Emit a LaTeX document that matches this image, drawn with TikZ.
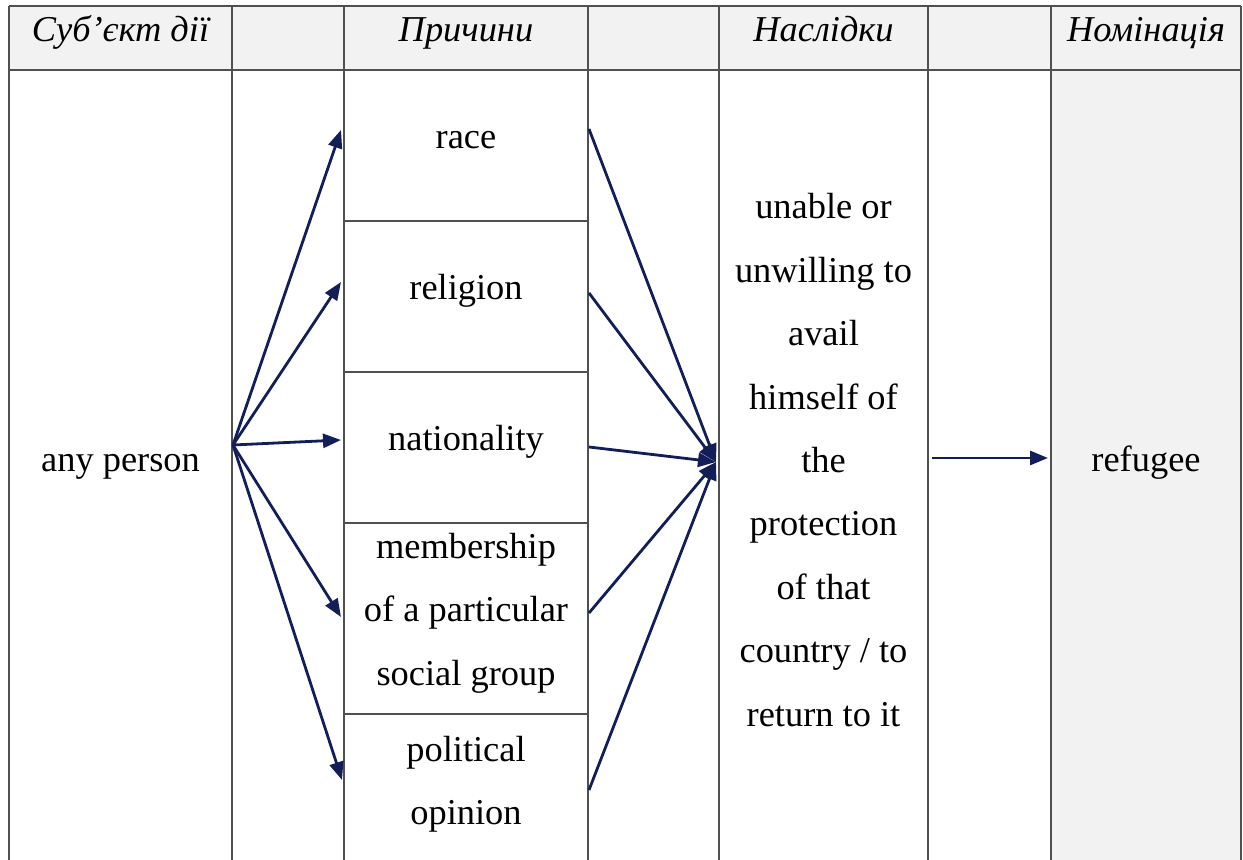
\documentclass[tikz,border=0pt]{standalone}
\usepackage{fontspec}
\setmainfont{Liberation Serif}
\usetikzlibrary{arrows.meta}
\definecolor{navy}{RGB}{18,30,88}
\definecolor{cellgray}{RGB}{242,242,242}
\definecolor{rulegray}{RGB}{80,80,80}

\begin{document}
\begin{tikzpicture}[x=0.5pt,y=-0.5pt,
  rulestyle/.style={draw=rulegray,line width=0.9pt},
  txt/.style={font=\fontsize{18.2pt}{31.7pt}\selectfont, inner sep=0pt, align=center},
  head/.style={font=\fontsize{18.2pt}{31.7pt}\selectfont\itshape, inner sep=0pt, anchor=base},
  link/.style={draw=navy, line width=1.4pt, -{Triangle[length=9pt,width=7pt]}},
]
\useasboundingbox (0,0) rectangle (1243,860);

% shaded header row and the last column
\fill[cellgray] (9,6) rectangle (1241,70);
\fill[cellgray] (1051,70) rectangle (1241,860);

% table rules
\draw[rulestyle] (9,6) -- (1241,6);
\draw[rulestyle] (9,70) -- (1241,70);
\foreach \cx in {9,232,344,588,719,928,1051,1241}
  \draw[rulestyle] (\cx,6) -- (\cx,860);
\foreach \cy in {221,372,523,714}
  \draw[rulestyle] (344,\cy) -- (588,\cy);

% header
\node[head] (hSubj) at (120.5,42) {Суб’єкт дії};
\node[head] (hCause) at (466,42) {Причини};
\node[head] (hEffect) at (823.5,42) {Наслідки};
\node[head] (hName) at (1146,42) {Номінація};

% body texts
\node[txt,anchor=base] (person) at (120.5,472) {any person};
\node[txt,anchor=base] (race) at (466,149) {race};
\node[txt,anchor=base] (religion) at (466,300) {religion};
\node[txt,anchor=base] (nation) at (466,451) {nationality};
\node[txt] (member) at (466,613) {membership\\of a particular\\social group};
\node[txt] (politic) at (466,784) {political\\opinion};
\node[txt] (effect) at (823.5,460) {unable or\\unwilling to\\avail\\himself of\\the\\protection\\of that\\country / to\\return to it};
\node[txt,anchor=base] (refugee) at (1146,472) {refugee};

% connector end points
\coordinate (src) at (233,445);
\coordinate (toRace) at (341,130);
\coordinate (toRelig) at (341,282);
\coordinate (toNation) at (341,440);
\coordinate (toMember) at (341,617);
\coordinate (toPolitic) at (342,780);
\coordinate (fromRace) at (589,129);
\coordinate (fromRelig) at (589,293);
\coordinate (fromNation) at (589,447);
\coordinate (fromMember) at (589,613);
\coordinate (fromPolitic) at (589,790);
\coordinate (hub) at (716,462);
\coordinate (fromEffect) at (932,458);
\coordinate (toRefugee) at (1048,458);

% fan-out from the subject
\foreach \t in {toRace,toRelig,toNation,toMember,toPolitic}
  \draw[link] (src) -- (\t);
% fan-in to the consequence
\foreach \s in {fromRace,fromRelig,fromNation,fromMember,fromPolitic}
  \draw[link] (\s) -- (hub);
% consequence to nomination
\draw[link] (fromEffect) -- (toRefugee);
\end{tikzpicture}
\end{document}
